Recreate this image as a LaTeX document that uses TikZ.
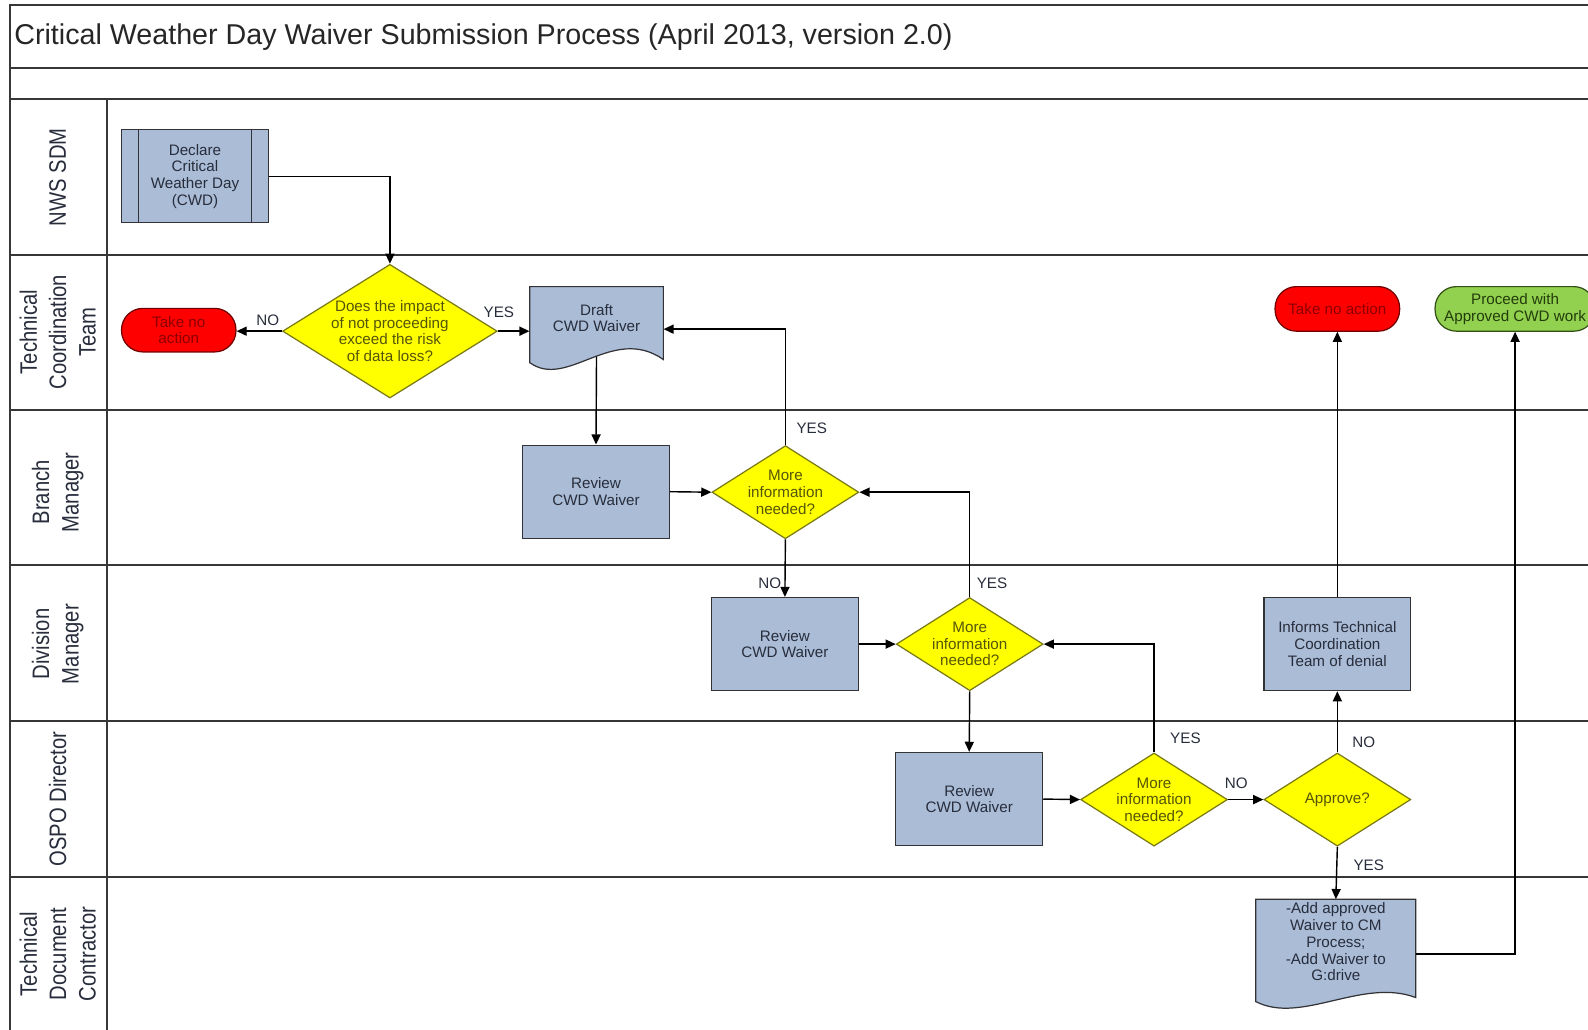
\documentclass[tikz,border=0pt]{standalone}
\usepackage{fontspec}
\setmainfont{Liberation Sans}
\newfontfamily\lanefam[FakeStretch=0.85]{Liberation Sans}
\usetikzlibrary{shapes.geometric,arrows.meta}
\definecolor{bluef}{RGB}{170,188,214}
\definecolor{linec}{RGB}{50,50,55}
\definecolor{textc}{RGB}{40,45,60}
\definecolor{yel}{RGB}{255,255,0}
\definecolor{yelb}{RGB}{120,120,20}
\definecolor{ytext}{RGB}{85,85,10}
\definecolor{redf}{RGB}{255,0,0}
\definecolor{redb}{RGB}{110,0,0}
\definecolor{redt}{RGB}{140,0,0}
\definecolor{greenf}{RGB}{146,208,80}
\definecolor{greenb}{RGB}{50,80,20}
\definecolor{greent}{RGB}{35,60,10}
\definecolor{gridc}{RGB}{55,55,55}
\newcommand\ndfont{\fontsize{15}{16.5}\selectfont}
\newcommand\lnfont{\lanefam\fontsize{23.5}{29}\selectfont}
\tikzset{
  gridl/.style={draw=gridc, line width=1.7pt},
  box/.style={draw=linec, fill=bluef, line width=1.2pt, minimum width=145pt, minimum height=92pt,
    inner sep=0pt, align=center, font=\ndfont, text=textc},
  docsh/.style={draw=linec, fill=bluef, line width=1.2pt},
  docn/.style={inner sep=0pt, align=center, font=\ndfont, text=textc},
  dia/.style={shape=diamond, draw=yelb, fill=yel, line width=1.2pt, inner sep=0pt,
    minimum width=145pt, minimum height=92pt},
  dtext/.style={align=center, font=\ndfont, text=ytext, inner sep=0pt},
  term/.style={rounded corners=21pt, line width=1.2pt, inner sep=0pt, align=center, font=\ndfont},
  arr/.style={draw=black, line width=1.4pt, -{Triangle[length=10pt,width=9pt]}},
  lbl/.style={font=\ndfont, text=textc, inner sep=0pt, anchor=center},
  lane/.style={font=\lnfont, text=textc, rotate=90, align=center, inner sep=0pt},
}
\begin{document}
\begin{tikzpicture}[x=1pt,y=-1pt]
\useasboundingbox (0,0) rectangle (1568,1017);
\begin{scope}
\clip (0,0) rectangle (1568,1017);
% frame and lanes
\draw[gridl] (10,1017) -- (10,5) -- (1568,5);
\draw[gridl] (10,67) -- (1568,67);
\draw[gridl] (10,98) -- (1568,98);
\foreach \yy in {252,405,558,712,866} { \draw[gridl] (10,\yy) -- (1568,\yy); }
\draw[gridl] (106,98) -- (106,1017);

\node[anchor=west, inner sep=0pt, font=\fontsize{28.3}{30}\selectfont, text=black!85] (title) at (14,37)
  {Critical Weather Day Waiver Submission Process (April 2013, version 2.0)};

% lane labels
\node[lane] (ln1) at (57,175) {NWS SDM};
\node[lane] (ln2) at (57,328) {Technical\\Coordination\\Team};
\node[lane] (ln3) at (57,486) {Branch\\Manager};
\node[lane] (ln4) at (57,636) {Division\\Manager};
\node[lane] (ln5) at (57,789) {OSPO Director};
\node[lane] (ln6) at (57,942) {Technical\\Document\\Contractor};

% nodes
\node[box] (decl) at (192.5,174) {Declare\\Critical\\Weather Day\\(CWD)};
\draw[draw=linec, line width=1.2pt] ([xshift=17pt]decl.north west) -- ([xshift=17pt]decl.south west)
  ([xshift=-17pt]decl.north east) -- ([xshift=-17pt]decl.south east);

\node[dia, minimum width=212pt, minimum height=132pt,
  label={[dtext]center:{Does the impact\\of not proceeding\\exceed the risk\\of data loss?}}] (d1) at (385,327) {};
\node[term, fill=redf, draw=redb, text=redt, minimum width=113pt, minimum height=43pt] (tna1) at (176.5,326) {Take no\\action};

\path[docsh] (523,283) -- (655,283) -- (655,355) .. controls (605,320) and (560,385) .. (523,358) -- cycle;
\node[docn, minimum width=132pt, minimum height=62pt] (draft) at (589,314) {Draft\\CWD Waiver};

\node[box] (rev1) at (588.5,485.5) {Review\\CWD Waiver};
\node[dia, label={[dtext]center:{More\\information\\needed?}}] (d2) at (775.5,486) {};
\node[box] (rev2) at (775,636) {Review\\CWD Waiver};
\node[dia, label={[dtext]center:{More\\information\\needed?}}] (d3) at (957.5,636) {};
\node[box] (rev3) at (957,789) {Review\\CWD Waiver};
\node[dia, label={[dtext]center:{More\\information\\needed?}}] (d4) at (1139.5,789.5) {};
\node[dia, label={[dtext]center:{Approve?}}] (ap) at (1320.5,789.5) {};
\node[box] (inf) at (1320.5,636) {Informs Technical\\Coordination\\Team of denial};
\node[term, fill=redf, draw=redb, text=redt, minimum width=123pt, minimum height=44pt] (tna2) at (1320.5,305) {Take no action};
\node[term, fill=greenf, draw=greenb, text=greent, minimum width=158pt, minimum height=44pt] (proc) at (1496,305) {Proceed with\\Approved CWD work};

\path[docsh] (1240,888) -- (1398,888) -- (1398,985) .. controls (1345,965) and (1285,1012) .. (1240,989) -- cycle;
\node[docn, minimum width=158pt, minimum height=84pt] (add) at (1319,930) {-Add approved\\Waiver to CM\\Process;\\-Add Waiver to\\G:drive};

% connectors
\draw[arr] (decl.east) -| (d1.north);
\draw[arr] (d1.west) -- node[lbl,pos=0,xshift=-14pt,yshift=11pt]{NO} (d1.west -| tna1.east);
\draw[arr] (d1.east) -- node[lbl,pos=0,xshift=1pt,yshift=19pt]{YES} (d1.east -| draft.west);
\draw[arr] ([yshift=-7pt]draft.south) -- (rev1.north);
\draw[arr] (d2.north) |- node[lbl,pos=0,xshift=26pt,yshift=17pt]{YES} ([yshift=-11pt]draft.east);
\draw[arr] (rev1.east) -- (d2.west);
\draw[arr] (d2.south) -- node[lbl,pos=1,xshift=-15pt,yshift=13pt]{NO} (rev2.north);
\draw[arr] (rev2.east) -- (d3.west);
\draw[arr] (d3.north) |- node[lbl,pos=0,xshift=22pt,yshift=13pt]{YES} (d2.east);
\draw[arr] (d3.south) -- (rev3.north);
\draw[arr] (rev3.east) -- (d4.west);
\draw[arr] (d4.north) |- node[lbl,pos=0,xshift=31pt,yshift=14pt]{YES} (d3.east);
\draw[arr] (d4.east) -- node[lbl,pos=0,xshift=8pt,yshift=16pt]{NO} (ap.west);
\draw[arr] (ap.north) -- node[lbl,pos=0,xshift=26pt,yshift=10pt]{NO} (inf.south);
\draw[arr] (ap.south) -- node[lbl,pos=0,xshift=31pt,yshift=-18pt]{YES} (add.north);
\draw[arr] (inf.north) -- (tna2.south);
\draw[arr] ([yshift=-12pt]add.east) -| (proc.south);
\end{scope}
\end{tikzpicture}
\end{document}
